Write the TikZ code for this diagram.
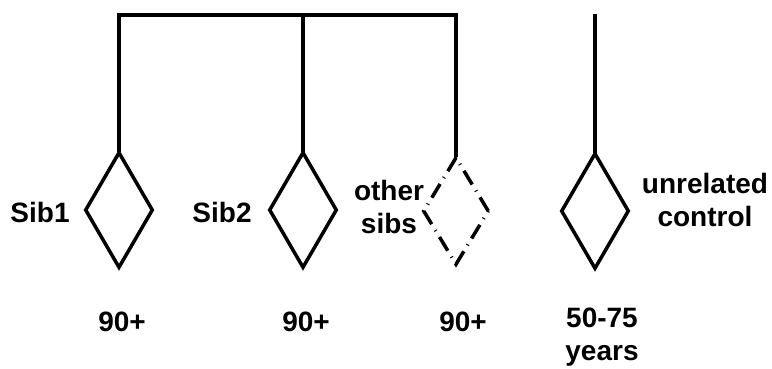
\documentclass[tikz,border=0pt]{standalone}
\usepackage{fontspec}
\setmainfont{Liberation Sans}
\usetikzlibrary{shapes.geometric}
\begin{document}
\begin{tikzpicture}[x=1pt,y=-1pt,
  label/.style={font=\fontsize{28}{33}\selectfont\bfseries, inner sep=0pt, align=center},
  person/.style={shape=diamond, draw, line width=3.5pt, inner sep=0pt,
    minimum width=68pt, minimum height=116pt},
  unknown/.style={person, minimum width=66pt, minimum height=108pt,
    dash pattern=on 16pt off 7pt on 1pt off 7pt},
  link/.style={line width=3.5pt, line cap=rect}]
\useasboundingbox (0,0) rectangle (772,369);

% individuals
\node[person]  (s1) at (119,210) {};
\node[person]  (s2) at (303,210) {};
\node[unknown] (os) at (456,211) {};
\node[person]  (uc) at (595,211) {};

% sibship line and the separate control's line
\coordinate (bl) at (119,15);
\coordinate (br) at (456,15);
\coordinate (ct) at (595,16);
\draw[link] (s1.north) -- (bl) -- (br) -- (os.north);
\draw[link] (s2.north) -- (s2.north |- bl);
\draw[link] (uc.north) -- (ct);

% names
\node[label, anchor=base] (n1) at (40,222) {Sib1};
\node[label, anchor=base] (n2) at (222,222) {Sib2};
\node[label, anchor=north] (n3) at (389,180) {other\\sibs};
\node[label, anchor=north] (n4) at (705,173) {unrelated\\control};

% ages
\node[label, anchor=base] (a1) at (122,331) {90+};
\node[label, anchor=base] (a2) at (306,331) {90+};
\node[label, anchor=base] (a3) at (463,331) {90+};
\node[label, anchor=north] (a4) at (602,308) {50-75\\years};
\end{tikzpicture}
\end{document}
